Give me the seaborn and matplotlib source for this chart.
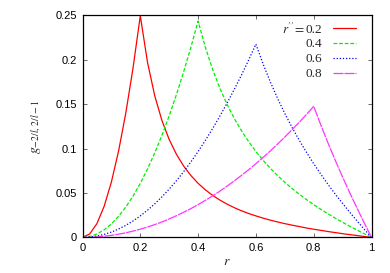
import numpy as np
import pandas as pd
import matplotlib
matplotlib.use("Agg")
import matplotlib.pyplot as plt
import seaborn as sns

r = [0.0, 0.025, 0.05, 0.075, 0.1, 0.125, 0.15, 0.175, 0.2, 0.225, 0.25, 0.275,
     0.3, 0.325, 0.35, 0.375, 0.4, 0.425, 0.45, 0.475, 0.5, 0.525, 0.55, 0.575,
     0.6, 0.625, 0.65, 0.675, 0.7, 0.725, 0.75, 0.775, 0.8, 0.825, 0.85, 0.875,
     0.9, 0.925, 0.95, 0.975, 1.0]

g_02 = [0.0, 0.0039, 0.0156, 0.0351, 0.0624, 0.0975, 0.1404, 0.1911, 0.2496,
        0.1970, 0.1594, 0.1315, 0.1102, 0.0936, 0.0804, 0.0697, 0.0609, 0.0536,
        0.0474, 0.0421, 0.0375, 0.0335, 0.0300, 0.0269, 0.0242, 0.0217, 0.0194,
        0.0174, 0.0155, 0.0138, 0.0122, 0.0106, 0.0092, 0.0079, 0.0066, 0.0054,
        0.0042, 0.0031, 0.0021, 0.0010, 0.0]
g_04 = [0.0, 0.0010, 0.0038, 0.0086, 0.0152, 0.0238, 0.0343, 0.0466, 0.0609,
        0.0771, 0.0952, 0.1151, 0.1370, 0.1608, 0.1865, 0.2141, 0.2436, 0.2142,
        0.1894, 0.1683, 0.1500, 0.1341, 0.1201, 0.1078, 0.0967, 0.0868, 0.0778,
        0.0696, 0.0620, 0.0551, 0.0486, 0.0426, 0.0369, 0.0315, 0.0265, 0.0216,
        0.0170, 0.0125, 0.0082, 0.0041, 0.0]
g_06 = [0.0, 0.0004, 0.0015, 0.0034, 0.0060, 0.0094, 0.0136, 0.0185, 0.0242,
        0.0306, 0.0378, 0.0457, 0.0544, 0.0638, 0.0740, 0.0850, 0.0967, 0.1092,
        0.1224, 0.1364, 0.1511, 0.1666, 0.1828, 0.1998, 0.2176, 0.1952, 0.1750,
        0.1565, 0.1396, 0.1239, 0.1094, 0.0958, 0.0830, 0.0710, 0.0595, 0.0486,
        0.0382, 0.0282, 0.0185, 0.0091, 0.0]
g_08 = [0.0, 0.0001, 0.0006, 0.0013, 0.0023, 0.0036, 0.0052, 0.0071, 0.0092,
        0.0117, 0.0144, 0.0174, 0.0208, 0.0244, 0.0283, 0.0324, 0.0369, 0.0417,
        0.0467, 0.0520, 0.0577, 0.0636, 0.0698, 0.0762, 0.0830, 0.0901, 0.0974,
        0.1051, 0.1130, 0.1212, 0.1297, 0.1385, 0.1476, 0.1262, 0.1059, 0.0865,
        0.0679, 0.0501, 0.0329, 0.0162, 0.0]

labels = ["0.2", "0.4", "0.6", "0.8"]
series = [g_02, g_04, g_06, g_08]
colors = ["#ff0000", "#00ee00", "#0000ff", "#ff33ff"]
dashes = [(None, None), (3, 1.5), (1, 1.5), (8, 0.8)]

xticks = [0, 0.2, 0.4, 0.6, 0.8, 1]
xticklabels = ["0", "0.2", "0.4", "0.6", "0.8", "1"]
yticks = [0, 0.05, 0.1, 0.15, 0.2, 0.25]
yticklabels = ["0", "0.05", "0.1", "0.15", "0.2", "0.25"]

sns.set_style("ticks")
plt.rcParams["font.family"] = ["Liberation Sans", "DejaVu Sans"]
plt.rcParams["mathtext.fontset"] = "stix"

fig = plt.figure(figsize=(3.9, 2.73), dpi=100)
ax = fig.add_axes([82.5 / 390, 1 - 237.4 / 273, (371.5 - 82.5) / 390, (237.4 - 15.4) / 273])

df = pd.DataFrame({"r": r})
handles = []
for lab, vals, c, d in zip(labels, series, colors, dashes):
    df["g"] = vals
    sns.lineplot(data=df, x="r", y="g", ax=ax, color=c, linewidth=0.9, label=lab)
    ln = ax.lines[-1]
    if d[0] is not None:
        ln.set_dashes(d)
    handles.append(ln)

ax.set_xlim(0, 1)
ax.set_ylim(0, 0.25)
ax.set_xticks(xticks)
ax.set_xticklabels(xticklabels)
ax.set_yticks(yticks)
ax.set_yticklabels(yticklabels)
ax.tick_params(direction="in", length=3, width=0.6, labelsize=8, top=True, right=True,
               colors="#555555", labelcolor="black", pad=4)
for s in ax.spines.values():
    s.set_linewidth(0.9)
    s.set_color("black")

ax.set_xlabel("$r$", fontsize=10, labelpad=1)
ax.set_ylabel("$g_{-2/l,\\,2/l-1}$", fontsize=10, labelpad=8)

leg = ax.legend(handles=handles, labels=labels, loc="upper right", frameon=False,
                markerfirst=False, handlelength=1.8, handletextpad=0.8,
                labelspacing=0.2, borderaxespad=0.2,
                bbox_to_anchor=(0.975, 1.0),
                prop={"family": ["Liberation Serif", "DejaVu Serif"], "size": 9.5})
fig.canvas.draw()
t0 = leg.get_texts()[0]
bb = t0.get_window_extent()
inv = ax.transAxes.inverted()
(x0, y0) = inv.transform((bb.x0, (bb.y0 + bb.y1) / 2))
ax.text(x0 - 0.003, y0, "$r^{\\prime\\prime}\\!=$", transform=ax.transAxes, ha="right",
        va="center", fontsize=9.5)

fig.savefig("out.png", dpi=100)
